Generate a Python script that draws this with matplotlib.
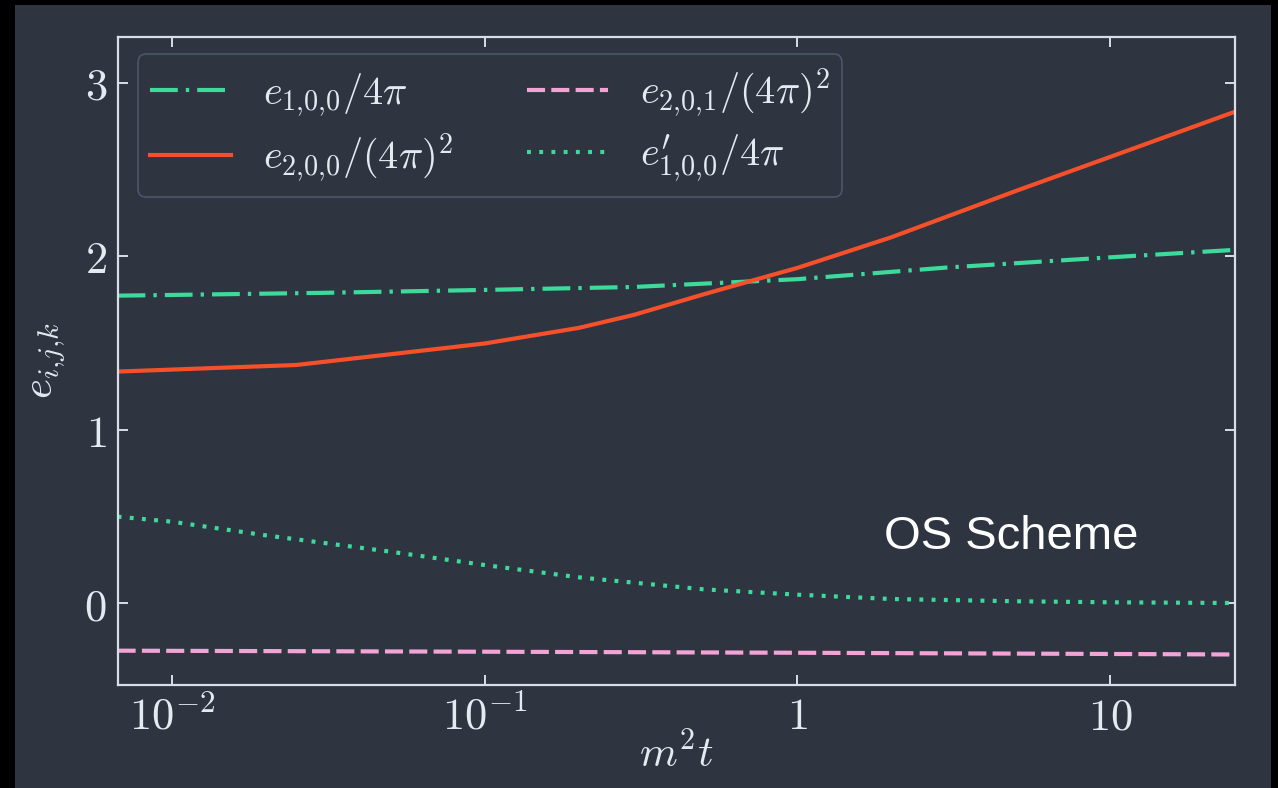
import matplotlib
matplotlib.use("Agg")
import matplotlib.pyplot as plt
from matplotlib.patches import Rectangle

# ---------------- data ----------------
x_e100 = [0.0067, 0.01, 0.03, 0.1, 0.3, 1, 3, 10, 25]
y_e100 = [1.773, 1.777, 1.789, 1.806, 1.823, 1.868, 1.935, 1.994, 2.037]

x_e200 = [0.0067, 0.025, 0.1, 0.2, 0.3, 0.5, 0.75, 1, 2, 5, 10, 25]
y_e200 = [1.335, 1.373, 1.497, 1.587, 1.662, 1.78, 1.87, 1.933, 2.11, 2.377, 2.573, 2.833]

x_e201 = [0.0067, 0.1, 1, 10, 25]
y_e201 = [-0.275, -0.281, -0.287, -0.294, -0.297]

x_e100p = [0.0067, 0.01, 0.02, 0.05, 0.1, 0.2, 0.5, 1, 2, 5, 10, 25]
y_e100p = [0.498, 0.469, 0.39, 0.296, 0.219, 0.148, 0.079, 0.048, 0.023, 0.01, 0.004, 0.0]

labels = [r"$e_{1{,}0{,}0}/4\pi$", r"$e_{2{,}0{,}0}/(4\pi)^2$",
          r"$e_{2{,}0{,}1}/(4\pi)^2$", r"$e^{\prime}_{1{,}0{,}0}/4\pi$"]
xticks = [0.01, 0.1, 1, 10]
xticklabels = [r"$10^{-2}$", r"$10^{-1}$", r"$1$", r"$10$"]
yticks = [0, 1, 2, 3]
yticklabels = [r"$0$", r"$1$", r"$2$", r"$3$"]

# ---------------- style ----------------
BG = "#2e3440"
FG = "#d8dee9"
TXT = "#e5e9f0"
GREEN = "#3ddb9b"
RED = "#f5502a"
PINK = "#f4a3d6"

plt.rcParams["mathtext.fontset"] = "cm"
plt.rcParams["lines.scale_dashes"] = False

fig = plt.figure(figsize=(12.78, 7.88), dpi=100)
fig.patch.set_facecolor("black")
fig.add_artist(Rectangle((15 / 1278, 0), 1256 / 1278, 783 / 788,
                         transform=fig.transFigure, facecolor=BG,
                         edgecolor="none", zorder=-10))

ax = fig.add_axes([118 / 1278, 1 - 685 / 788, 1117 / 1278, 648 / 788])
ax.set_facecolor(BG)

lw = 3.0
ax.plot(x_e100, y_e100, color=GREEN, lw=lw, dashes=(20, 5.8, 2.4, 5.8),
        label=labels[0])
ax.plot(x_e200, y_e200, color=RED, lw=lw, label=labels[1])
ax.plot(x_e201, y_e201, color=PINK, lw=lw, dashes=(13, 4.5), label=labels[2])
ax.plot(x_e100p, y_e100p, color=GREEN, lw=lw, dashes=(2.8, 6.0),
        label=labels[3])

ax.set_xscale("log")
ax.set_xlim(0.00672, 25.1)
ax.set_ylim(-0.473, 3.265)

ax.set_xticks(xticks, xticklabels)
ax.set_yticks(yticks, yticklabels)
ax.minorticks_off()
ax.tick_params(which="major", direction="in", length=7, width=1.4,
               colors=FG, labelcolor=TXT, labelsize=32,
               top=True, right=True, pad=8)
ax.tick_params(axis="x", pad=32)
for lab in ax.get_xticklabels():
    lab.set_verticalalignment("baseline")

for s in ax.spines.values():
    s.set_color(FG)
    s.set_linewidth(1.6)

ax.set_xlabel(r"$m^2t$", fontsize=31, color=TXT)
ax.set_ylabel(r"$e_{i{,}j{,}k}$", fontsize=31, color=TXT)
ax.xaxis.set_label_coords(0.5, -0.074)
ax.yaxis.set_label_coords(-0.045, 0.5)

ax.text(0.686, 0.228, "OS Scheme", transform=ax.transAxes,
        fontsize=34, family="Liberation Sans", color="white",
        ha="left", va="center")

leg = ax.legend(ncol=2, loc="upper left", bbox_to_anchor=(0.0179, 0.973),
                borderaxespad=0, fontsize=29, frameon=True, fancybox=True,
                handlelength=2.0, handletextpad=0.8, columnspacing=1.85,
                labelspacing=0.32, borderpad=0.3)
frame = leg.get_frame()
frame.set_facecolor(BG)
frame.set_edgecolor("#4c566a")
frame.set_alpha(1)
frame.set_linewidth(1.2)
for t in leg.get_texts():
    t.set_color(TXT)

fig.savefig("out.png", dpi=100, facecolor=fig.get_facecolor())
